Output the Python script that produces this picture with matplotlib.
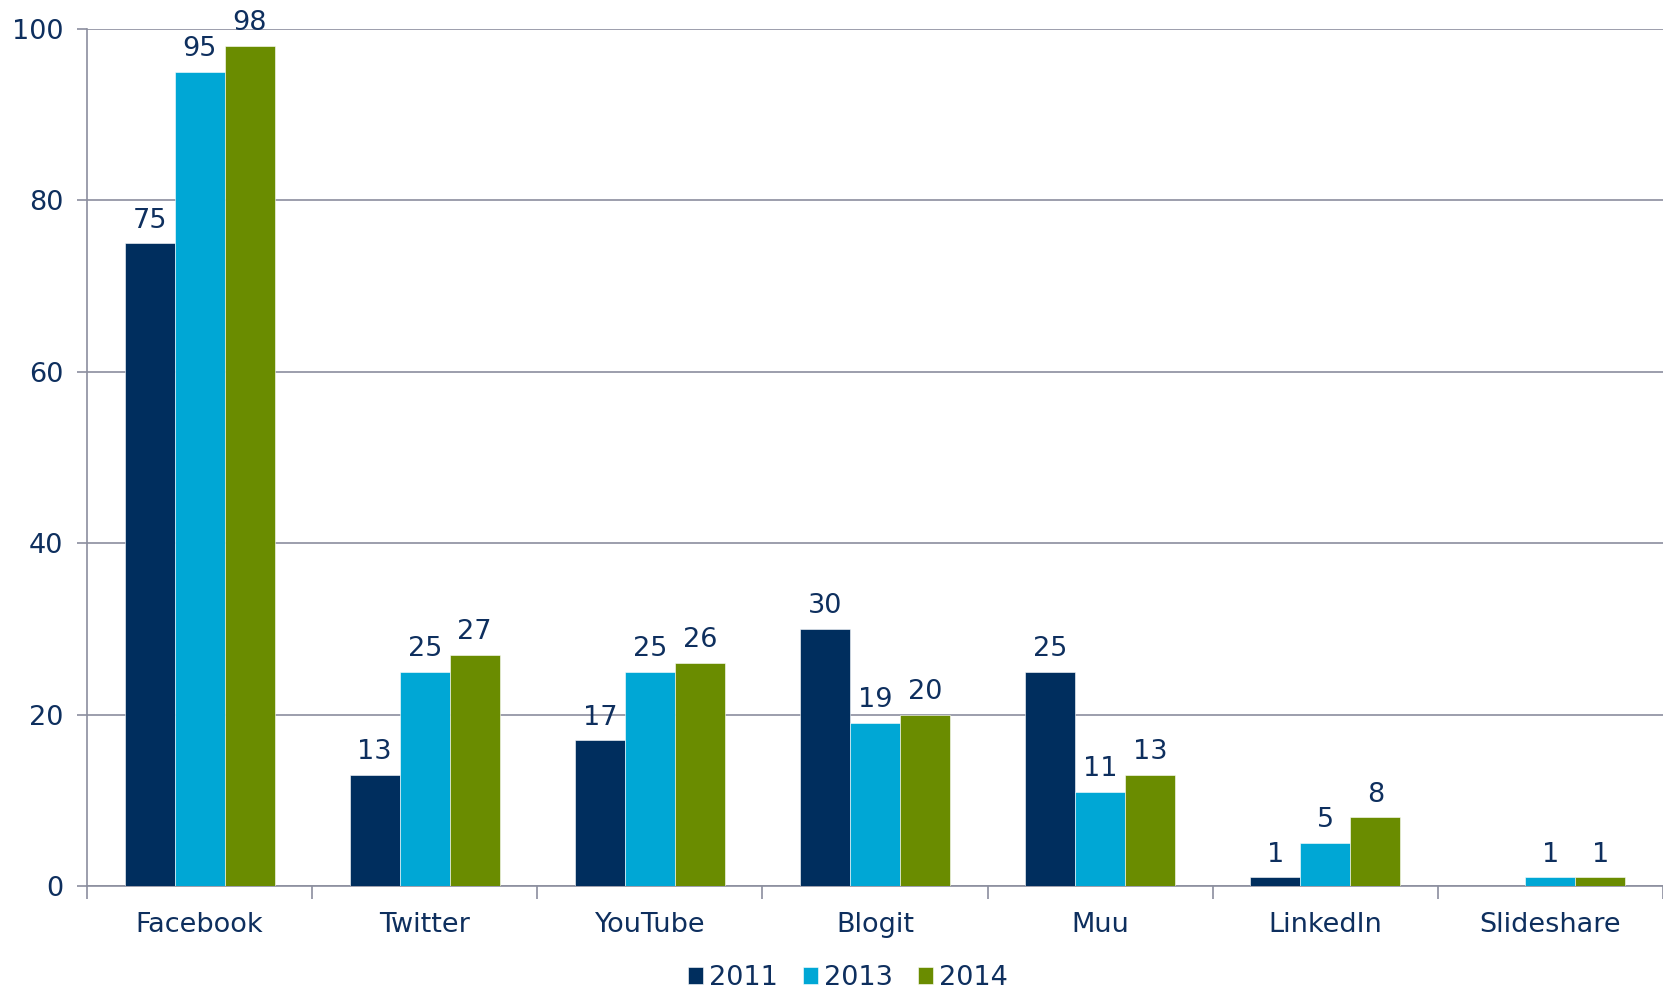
import numpy as np
import matplotlib.pyplot as plt

categories = ['Facebook', 'Twitter', 'YouTube', 'Blogit', 'Muu', 'LinkedIn', 'Slideshare']
years = ['2011', '2013', '2014']
v2011 = [75, 13, 17, 30, 25, 1, None]
v2013 = [95, 25, 25, 19, 11, 5, 1]
v2014 = [98, 27, 26, 20, 13, 8, 1]
colors = ['#002e5e', '#00a7d5', '#6a8c00']

text_col = '#0e2f5e'
grid_col = '#8b8e9e'
fs = 19.5

plt.rcParams['font.family'] = ['DejaVu Sans']
fig = plt.figure(figsize=(16.63, 9.91), dpi=100)
ax = fig.add_axes([87 / 1663, 105 / 991, 1 - 87 / 1663, (886 - 29) / 991])

x = np.arange(len(categories))
w = 0.222
for i, (vals, c) in enumerate(zip([v2011, v2013, v2014], colors)):
    pos = [xx + (i - 1) * w for xx, v in zip(x, vals) if v is not None]
    hv = [v for v in vals if v is not None]
    bars = ax.bar(pos, hv, width=w, color=c, edgecolor='white', linewidth=0.4,
                  label=years[i], zorder=3)
    for b, v in zip(bars, hv):
        ax.annotate(str(v), (b.get_x() + b.get_width() / 2, v), xytext=(0, 7),
                    textcoords='offset points', ha='center', va='bottom',
                    fontsize=fs, color=text_col)

ax.set_xlim(-0.5, len(categories) - 0.5)
ax.set_ylim(0, 100)
ax.set_yticks(range(0, 101, 20))
ax.yaxis.grid(True, color=grid_col, linewidth=1.2, zorder=0)
ax.set_xticks(x)
ax.set_xticklabels(categories)
ax.set_xticks(np.arange(-0.5, len(categories), 1), minor=True)
ax.tick_params(axis='x', which='major', length=0, pad=19, labelsize=fs, labelcolor=text_col)
ax.tick_params(axis='x', which='minor', length=9, width=1.2, color=grid_col)
ax.tick_params(axis='y', length=7, width=1.2, color=grid_col, pad=10, labelsize=fs, labelcolor=text_col)
for s in ['top', 'right']:
    ax.spines[s].set_visible(False)
for s in ['left', 'bottom']:
    ax.spines[s].set_color(grid_col)
    ax.spines[s].set_linewidth(1.2)

leg = fig.legend(loc='center', bbox_to_anchor=(848 / 1663, 1 - 978 / 991), ncol=3,
                 frameon=False, fontsize=fs, handlelength=0.55, handleheight=0.55,
                 handletextpad=0.25, columnspacing=0.9)
for t in leg.get_texts():
    t.set_color(text_col)

fig.savefig('out.png')
